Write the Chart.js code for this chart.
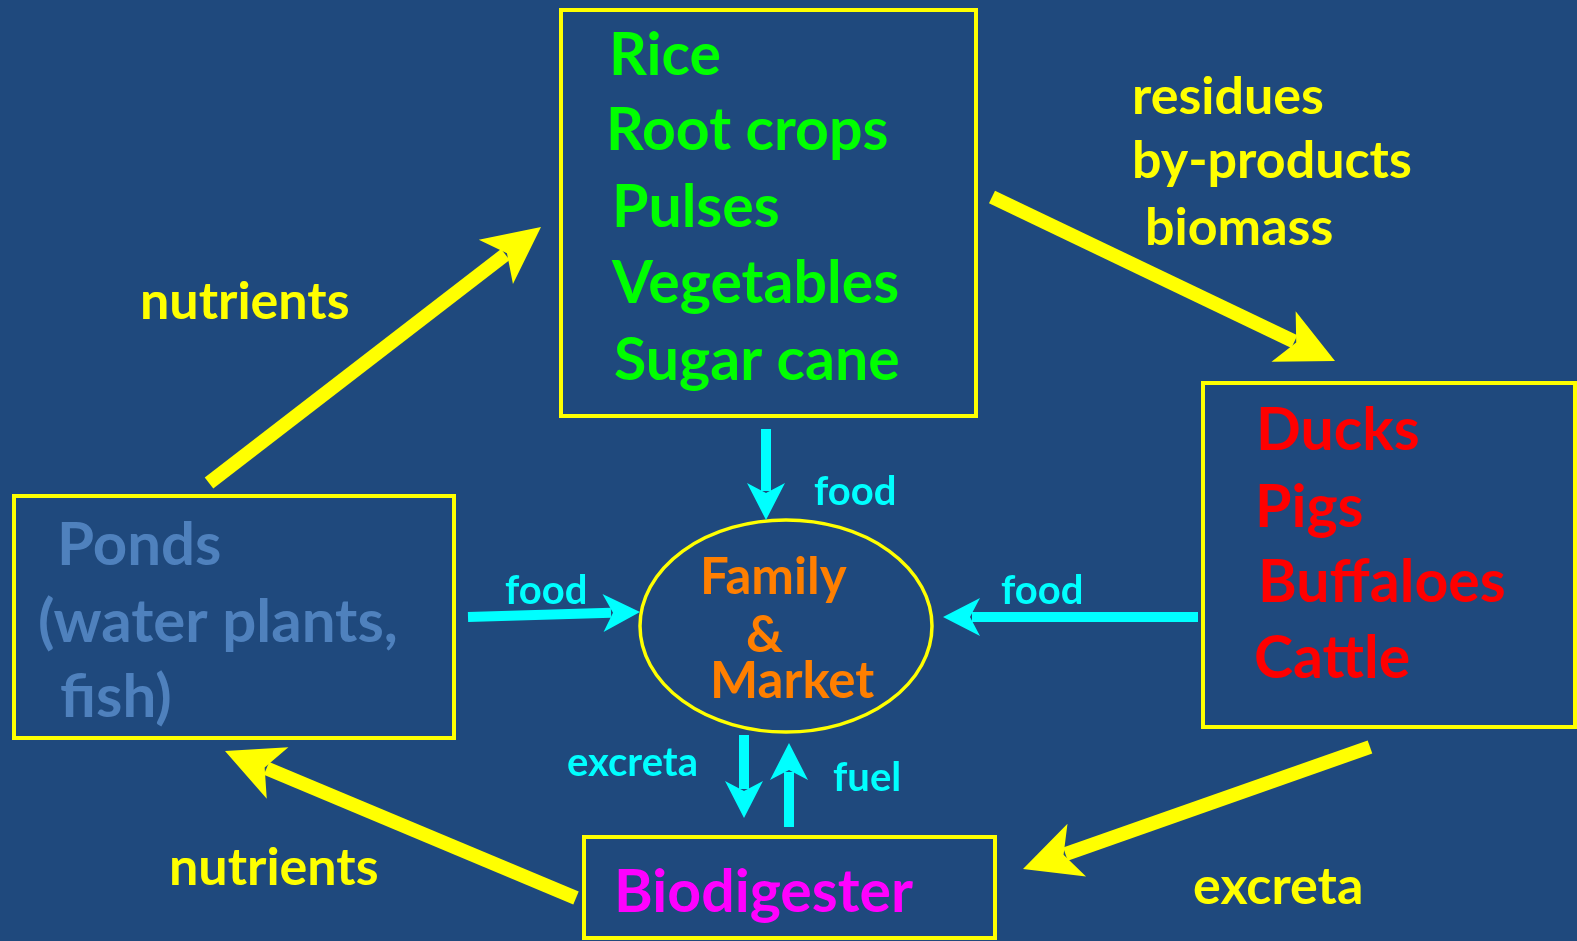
<!DOCTYPE html>
<html lang="en">
<head>
    <meta charset="UTF-8">
    <title>Integrated Farming Cycle</title>
    <script src="https://cdn.jsdelivr.net/npm/chart.js"></script>
    <style>
        html, body {
            margin: 0;
            padding: 0;
            background-color: #1f497d;
            overflow: hidden;
        }

        .chart-container {
            width: 1577px;
            height: 941px;
        }
    </style>
</head>
<body>

    <div class="chart-container">
        <canvas id="cycleChart"></canvas>
    </div>

    <script>
        // Boxes: [left, right] and [top, bottom] in diagram units
        const boxX = [[561, 976], [14, 454], [1203, 1575], [584, 995]];
        const boxY = [[10, 416], [496, 738], [383, 727], [837, 938]];

        // Family & Market ellipse: centre and radii
        const ellipseCentre = [786, 626];
        const ellipseRadius = [146, 106];

        // Box contents
        const cropLabels = ['Rice', 'Root crops', 'Pulses', 'Vegetables', 'Sugar cane'];
        const cropX = [609, 606, 612, 612, 614];
        const cropY = [75, 150, 227, 303, 380];

        const animalLabels = ['Ducks', 'Pigs', 'Buffaloes', 'Cattle'];
        const animalX = [1256, 1255, 1258, 1254];
        const animalY = [450, 527, 602, 678];

        const pondLabels = ['Ponds', '(water plants,', 'fish)'];
        const pondX = [57, 38, 60];
        const pondY = [565, 642, 717];

        const digesterLabels = ['Biodigester'];
        const digesterX = [614];
        const digesterY = [912];

        const marketLabels = ['Family', '&', 'Market'];
        const marketX = [700, 746, 710];
        const marketY = [594, 652, 698];

        // Flow labels along the big yellow arrows
        const flowLabels = ['nutrients', 'residues', 'by-products', 'biomass', 'excreta', 'nutrients'];
        const flowX = [140, 1132, 1132, 1145, 1193, 169];
        const flowY = [319, 114, 178, 245, 904, 885];

        // Flow labels along the small cyan arrows
        const foodLabels = ['food', 'food', 'food', 'excreta', 'fuel'];
        const foodX = [814, 505, 1001, 567, 833];
        const foodY = [505, 604, 604, 776, 791];

        // Arrows: tail -> tip
        const bigArrowFrom = [[209, 483], [992, 197], [1370, 747], [576, 898]];
        const bigArrowTo = [[541, 227], [1335, 361], [1023, 869], [225, 751]];
        const smallArrowFrom = [[766, 429], [468, 617], [1198, 617], [744, 735], [789, 827]];
        const smallArrowTo = [[766, 520], [640, 612], [943, 617], [744, 818], [789, 743]];

        const FONT = '"Lato", "Noto Sans", sans-serif';

        const diagramPlugin = {
            id: 'diagram',
            beforeDraw(chart) {
                const ctx = chart.ctx;
                ctx.save();
                ctx.fillStyle = '#1f497d';
                ctx.fillRect(0, 0, chart.width, chart.height);
                ctx.restore();
            },
            afterDraw(chart) {
                const ctx = chart.ctx;
                const xs = chart.scales.x;
                const ys = chart.scales.y;
                const px = v => xs.getPixelForValue(v);
                const py = v => ys.getPixelForValue(v);

                ctx.save();

                // boxes
                ctx.strokeStyle = '#ffff00';
                ctx.lineWidth = 4;
                for (let i = 0; i < boxX.length; i++) {
                    const x0 = px(boxX[i][0]), x1 = px(boxX[i][1]);
                    const y0 = py(boxY[i][0]), y1 = py(boxY[i][1]);
                    ctx.strokeRect(x0, y0, x1 - x0, y1 - y0);
                }

                // ellipse
                const cx = px(ellipseCentre[0]), cy = py(ellipseCentre[1]);
                const rx = px(ellipseCentre[0] + ellipseRadius[0]) - cx;
                const ry = Math.abs(py(ellipseCentre[1] + ellipseRadius[1]) - cy);
                ctx.lineWidth = 3.5;
                ctx.beginPath();
                ctx.ellipse(cx, cy, rx, ry, 0, 0, Math.PI * 2);
                ctx.stroke();

                // arrows with notched heads
                function arrow(from, to, color, shaft, headLen, headHalf, notch) {
                    const x0 = px(from[0]), y0 = py(from[1]);
                    const x1 = px(to[0]), y1 = py(to[1]);
                    const len = Math.hypot(x1 - x0, y1 - y0);
                    const ux = (x1 - x0) / len, uy = (y1 - y0) / len;
                    const nx = -uy, ny = ux;
                    ctx.fillStyle = color;
                    ctx.strokeStyle = color;
                    ctx.lineWidth = shaft;
                    ctx.lineCap = 'butt';
                    ctx.beginPath();
                    ctx.moveTo(x0, y0);
                    ctx.lineTo(x1 - ux * (notch + 2), y1 - uy * (notch + 2));
                    ctx.stroke();
                    const bx = x1 - ux * headLen, by = y1 - uy * headLen;
                    ctx.beginPath();
                    ctx.moveTo(x1, y1);
                    ctx.lineTo(bx + nx * headHalf, by + ny * headHalf);
                    ctx.lineTo(x1 - ux * notch, y1 - uy * notch);
                    ctx.lineTo(bx - nx * headHalf, by - ny * headHalf);
                    ctx.closePath();
                    ctx.fill();
                }

                for (let i = 0; i < bigArrowFrom.length; i++) {
                    arrow(bigArrowFrom[i], bigArrowTo[i], '#ffff00', 14, 57, 28, 43);
                }
                for (let i = 0; i < smallArrowFrom.length; i++) {
                    arrow(smallArrowFrom[i], smallArrowTo[i], '#00ffff', 10, 37, 19, 27);
                }

                // text
                ctx.textAlign = 'left';
                ctx.textBaseline = 'alphabetic';
                function labels(list, lx, ly, color, size) {
                    ctx.fillStyle = color;
                    ctx.font = 'bold ' + size + 'px ' + FONT;
                    list.forEach((t, i) => ctx.fillText(t, px(lx[i]), py(ly[i])));
                }
                labels(cropLabels, cropX, cropY, '#00ff00', 59);
                labels(animalLabels, animalX, animalY, '#ff0000', 59);
                labels(pondLabels, pondX, pondY, '#4f81bd', 60);
                labels(digesterLabels, digesterX, digesterY, '#ff00ff', 59);
                labels(marketLabels, marketX, marketY, '#ff7f00', 51);
                labels(flowLabels, flowX, flowY, '#ffff00', 52);
                labels(foodLabels, foodX, foodY, '#00ffff', 40);

                ctx.restore();
            }
        };

        const cycleChart = new Chart(document.getElementById('cycleChart').getContext('2d'), {
            type: 'scatter',
            data: { datasets: [] },
            options: {
                responsive: true,
                maintainAspectRatio: false,
                animation: false,
                layout: { padding: 0 },
                scales: {
                    x: { type: 'linear', min: 0, max: 1577, display: false },
                    y: { type: 'linear', min: 0, max: 941, reverse: true, display: false }
                },
                plugins: {
                    legend: { display: false },
                    tooltip: { enabled: false }
                }
            },
            plugins: [diagramPlugin]
        });
    </script>
</body>
</html>
